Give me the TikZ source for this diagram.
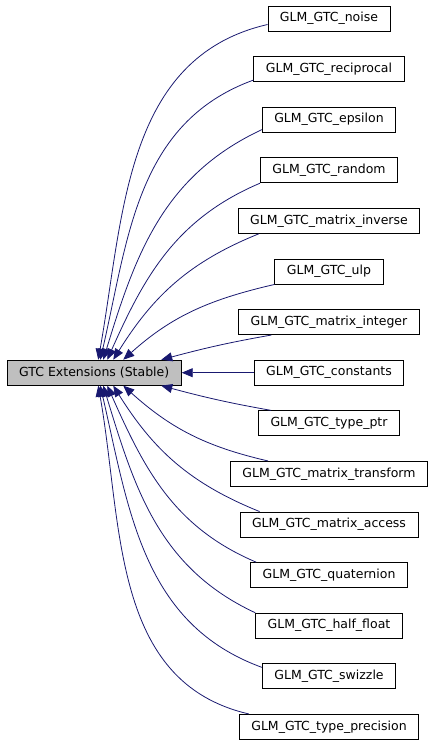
\documentclass[tikz,border=0pt]{standalone}
\usepackage{fontspec}
\setmainfont{DejaVu Sans}
\usepackage{xcolor}
\usepackage{tikz}
\usetikzlibrary{positioning, arrows.meta}
\definecolor{edgeBlue}{HTML}{191970}
\definecolor{grpFill}{HTML}{bfbfbf}
\begin{document}
\begin{tikzpicture}[x=1pt, y=1pt, node distance=24.7pt,
  cls/.style={draw, line width=0.9pt, minimum height=25pt, inner xsep=12pt, inner ysep=0pt, font=\fontsize{12.5}{14}\selectfont},
  grp/.style={cls, fill=grpFill},
  dep/.style={draw=edgeBlue, line width=0.8pt, -{Triangle[length=11pt, width=9pt]}, fill=none}]
\useasboundingbox (0,0) rectangle (435,-747);
\node[cls] (noise) at (329,-18.5) {GLM\_GTC\_noise};
\node[cls, below=of noise] (recip) {GLM\_GTC\_reciprocal};
\node[cls, below=of recip] (eps) {GLM\_GTC\_epsilon};
\node[cls, below=of eps] (rnd) {GLM\_GTC\_random};
\node[cls, below=of rnd] (minv) {GLM\_GTC\_matrix\_inverse};
\node[cls, below=of minv] (ulp) {GLM\_GTC\_ulp};
\node[cls, below=of ulp] (mint) {GLM\_GTC\_matrix\_integer};
\node[cls, below=of mint] (const) {GLM\_GTC\_constants};
\node[cls, below=of const] (tptr) {GLM\_GTC\_type\_ptr};
\node[cls, below=of tptr] (mtrans) {GLM\_GTC\_matrix\_transform};
\node[cls, below=of mtrans] (macc) {GLM\_GTC\_matrix\_access};
\node[cls, below=of macc] (quat) {GLM\_GTC\_quaternion};
\node[cls, below=of quat] (half) {GLM\_GTC\_half\_float};
\node[cls, below=of half] (swz) {GLM\_GTC\_swizzle};
\node[cls, below=of swz] (tprec) {GLM\_GTC\_type\_precision};
\node[grp, left=72pt of const] (gtc) {GTC Extensions (Stable)};
% upper dependencies
\draw[dep] ([yshift=-6pt]noise.west) to[out=193, in=80] ([xshift=4pt]gtc.north);
\draw[dep] ([yshift=2pt]recip.south west) to[out=200, in=77] ([xshift=6pt]gtc.north);
\draw[dep] ([yshift=3pt]eps.south west) to[out=205, in=73] ([xshift=9pt]gtc.north);
\draw[dep] (rnd.south west) to[out=203, in=66] ([xshift=13pt]gtc.north);
\draw[dep] ([xshift=21pt]minv.south west) to[out=202, in=58] ([xshift=19pt]gtc.north);
\draw[dep] (ulp.south west) to[out=193, in=42] ([xshift=29pt]gtc.north);
\draw[dep] ([xshift=33pt]mint.south west) to[out=190, in=15] ([xshift=67pt]gtc.north);
\draw[dep] (const) -- (gtc);
% lower dependencies
\draw[dep] ([xshift=13pt]tptr.north west) to[out=170, in=-15] ([xshift=67pt]gtc.south);
\draw[dep] ([xshift=38pt]mtrans.north west) to[out=167, in=-42] ([xshift=29pt]gtc.south);
\draw[dep] ([xshift=20pt]macc.north west) to[out=158, in=-58] ([xshift=19pt]gtc.south);
\draw[dep] ([xshift=6pt]quat.north west) to[out=157, in=-66] ([xshift=13pt]gtc.south);
\draw[dep] (half.north west) to[out=155, in=-73] ([xshift=9pt]gtc.south);
\draw[dep] ([yshift=-4pt]swz.north west) to[out=160, in=-77] ([xshift=6pt]gtc.south);
\draw[dep] ([xshift=10pt]tprec.north west) to[out=167, in=-80] ([xshift=4pt]gtc.south);
\end{tikzpicture}
\end{document}
